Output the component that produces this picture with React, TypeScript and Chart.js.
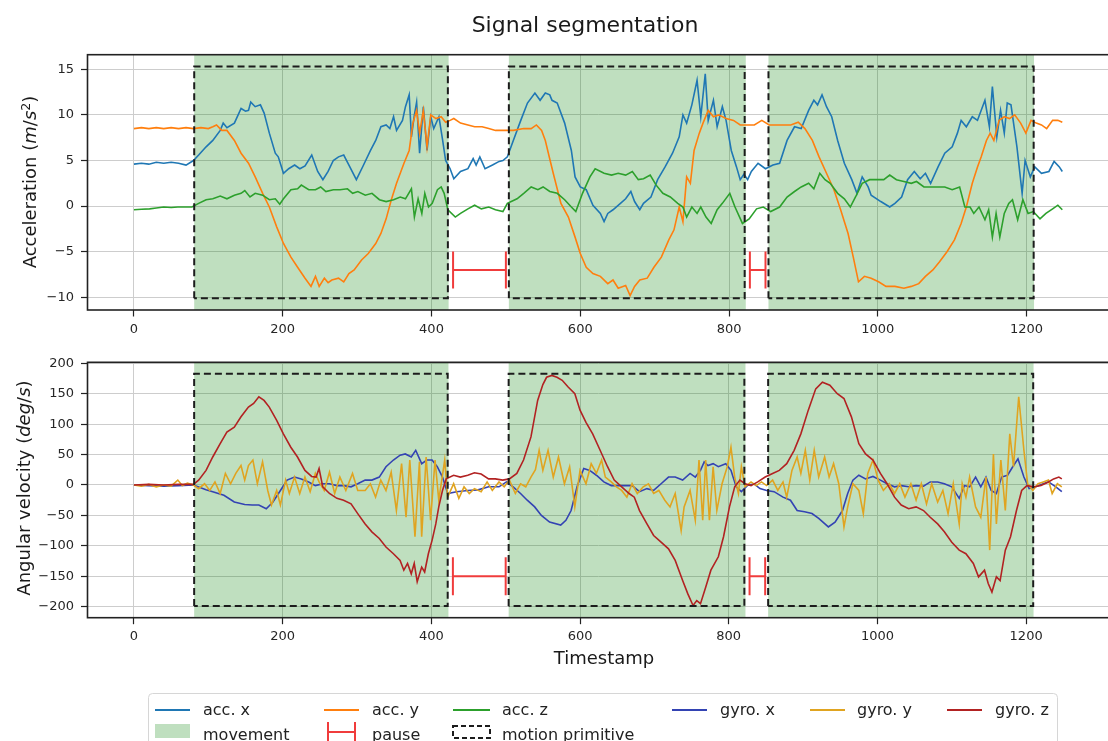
import React, { useEffect, useRef } from 'react';
import { Chart, registerables } from 'chart.js';

Chart.register(...registerables);

// ---------------- data ----------------
const xTicks = [0, 200, 400, 600, 800, 1000, 1200];
const accTicks = [-10, -5, 0, 5, 10, 15];
const gyroTicks = [-200, -150, -100, -50, 0, 50, 100, 150, 200];

const movementSpans = [[81, 423], [504, 822.5], [853, 1210]];
const primitiveSpans = [[81, 422], [504, 821], [853, 1209.5]];
const pauseSpans = [[429, 500], [828, 849]];
const accPrimitiveY = [-10.1, 15.3];
const gyroPrimitiveY = [-198.8, 182.9];
const accPauseY = -7;
const gyroPauseY = -150;

const accX = [[0,4.6],[10,4.7],[20,4.6],[30,4.8],[40,4.7],[50,4.8],[60,4.7],[70,4.5],[80,5.0],[87,5.6],[97,6.5],[106,7.2],[116,8.3],[120,9.1],[125,8.6],[135,9.1],[144,10.7],[150,10.4],[154,10.5],[157,11.4],[163,10.9],[170,11.1],[175,10.2],[182,8.0],[190,5.8],[194,5.4],[201,3.6],[208,4.1],[216,4.5],[223,4.1],[230,4.4],[239,5.6],[247,3.8],[254,2.9],[261,3.8],[268,5.0],[275,5.4],[282,5.6],[289,4.5],[299,2.9],[308,4.4],[318,6.1],[325,7.2],[332,8.7],[339,8.9],[344,8.5],[349,9.8],[353,8.3],[361,9.4],[365,10.9],[370,12.2],[373,7.6],[377,10.0],[380,11.4],[384,5.8],[389,10.9],[394,6.1],[399,9.8],[403,8.5],[410,9.8],[415,7.2],[419,5.0],[425,4.1],[430,3.0],[439,3.8],[449,4.1],[456,5.2],[460,4.5],[465,5.4],[472,4.1],[482,4.5],[491,4.9],[496,5.0],[502,5.4],[510,7.2],[520,9.4],[529,11.3],[539,12.4],[546,11.6],[553,12.4],[559,12.2],[562,11.6],[569,11.3],[579,9.1],[588,6.1],[593,3.2],[600,2.1],[608,1.8],[617,0.1],[627,-0.8],[632,-1.7],[637,-0.8],[644,-0.4],[654,0.3],[661,0.8],[668,1.6],[673,0.5],[680,-0.4],[685,0.3],[695,1.0],[704,2.9],[714,4.3],[724,5.8],[733,7.6],[738,10.0],[743,9.1],[750,11.1],[757,13.8],[762,9.8],[768,14.5],[772,9.4],[779,11.6],[784,8.7],[791,10.9],[796,9.4],[803,6.1],[810,4.3],[815,2.9],[820,3.5],[825,2.9],[830,3.8],[839,4.7],[849,4.1],[859,4.5],[868,4.7],[878,7.2],[888,8.7],[897,8.5],[907,10.5],[914,11.6],[919,11.1],[925,12.2],[931,10.9],[938,9.8],[946,7.2],[955,4.7],[965,2.9],[972,1.4],[979,3.2],[987,2.1],[991,1.2],[1004,0.5],[1016,-0.1],[1023,0.3],[1032,1.0],[1040,2.9],[1049,3.8],[1057,3.0],[1064,3.6],[1071,2.5],[1081,4.3],[1090,5.8],[1100,6.5],[1107,8.0],[1112,9.4],[1119,8.7],[1127,9.8],[1134,9.4],[1144,11.6],[1150,8.7],[1154,13.1],[1160,7.6],[1165,10.5],[1170,8.0],[1174,11.3],[1179,11.1],[1187,6.5],[1194,1.4],[1198,5.0],[1205,3.2],[1211,4.3],[1220,3.6],[1230,3.8],[1237,4.9],[1244,4.3],[1248,3.8]];

const accY = [[0,8.5],[10,8.6],[20,8.5],[30,8.6],[40,8.5],[50,8.6],[60,8.5],[70,8.6],[80,8.5],[90,8.6],[100,8.5],[106,8.7],[111,8.9],[118,8.3],[125,8.3],[135,7.2],[144,5.8],[154,4.7],[163,3.2],[173,1.4],[182,-0.1],[192,-2.3],[201,-4.1],[211,-5.6],[220,-6.7],[230,-7.9],[238,-8.8],[244,-7.7],[249,-8.8],[256,-7.9],[261,-8.4],[266,-8.1],[275,-7.9],[282,-8.3],[289,-7.4],[296,-7.0],[306,-5.9],[315,-5.2],[325,-4.1],[332,-3.0],[339,-1.4],[346,0.7],[353,2.5],[363,4.7],[370,6.1],[375,9.1],[380,10.5],[384,8.0],[389,10.5],[394,6.5],[399,10.0],[406,9.6],[413,9.8],[419,9.2],[425,9.4],[430,9.6],[439,9.1],[449,8.9],[458,8.7],[468,8.7],[477,8.5],[486,8.3],[496,8.3],[510,8.3],[524,8.5],[534,8.5],[541,8.9],[548,8.3],[553,7.2],[558,5.5],[564,3.5],[574,0.3],[584,-1.2],[593,-3.4],[600,-5.2],[608,-6.7],[617,-7.4],[627,-7.7],[637,-8.5],[644,-8.1],[651,-9.0],[661,-8.7],[667,-9.8],[673,-8.8],[680,-8.1],[690,-7.9],[699,-6.7],[709,-5.6],[719,-3.7],[726,-2.6],[733,-0.1],[738,-1.7],[743,3.2],[748,2.5],[753,6.1],[760,8.0],[765,9.1],[772,10.5],[779,9.8],[786,10.0],[796,9.6],[806,9.4],[815,8.9],[825,8.9],[834,8.9],[844,9.4],[854,8.9],[864,8.9],[873,8.9],[883,8.9],[893,9.2],[902,8.5],[912,7.2],[921,5.4],[931,3.6],[941,1.8],[950,-0.4],[960,-3.0],[967,-5.6],[974,-8.3],[982,-7.7],[991,-7.9],[1001,-8.3],[1011,-8.8],[1023,-8.8],[1035,-9.0],[1045,-8.8],[1055,-8.5],[1064,-7.7],[1074,-7.0],[1083,-6.1],[1093,-5.0],[1103,-3.7],[1112,-1.9],[1119,-0.1],[1127,2.5],[1134,4.3],[1139,5.4],[1146,7.2],[1151,8.0],[1156,7.2],[1163,9.4],[1170,9.8],[1177,9.6],[1184,10.0],[1192,9.1],[1199,8.0],[1206,9.4],[1213,9.1],[1220,8.9],[1227,8.5],[1235,9.4],[1242,9.4],[1248,9.2]];

const accZ = [[0,-0.4],[10,-0.35],[21,-0.3],[30,-0.2],[40,-0.1],[50,-0.15],[59,-0.1],[70,-0.1],[78,-0.1],[87,0.3],[97,0.7],[106,0.8],[116,1.1],[125,0.8],[135,1.2],[144,1.4],[149,1.7],[156,1.0],[163,1.4],[173,1.2],[182,0.7],[190,0.8],[196,0.2],[201,0.8],[211,1.8],[220,1.9],[225,2.3],[235,1.8],[244,1.8],[251,2.1],[258,1.6],[268,1.8],[277,1.8],[287,1.9],[294,1.4],[301,1.6],[311,1.2],[320,1.4],[330,0.7],[339,0.5],[349,0.7],[358,1.0],[365,0.8],[373,1.9],[377,-1.2],[382,0.8],[387,-0.8],[391,1.4],[396,-0.1],[401,0.3],[408,1.8],[413,2.1],[417,1.4],[422,-0.4],[432,-1.2],[439,-0.8],[449,-0.3],[458,0.1],[467,-0.3],[477,-0.1],[486,-0.4],[496,-0.6],[502,0.3],[515,0.8],[524,1.4],[534,2.1],[543,1.8],[550,2.1],[559,1.6],[569,1.4],[579,0.7],[588,-0.1],[594,-0.6],[603,1.4],[613,3.2],[620,4.1],[632,3.6],[642,3.4],[651,3.6],[661,3.4],[670,3.8],[678,2.9],[685,3.0],[694,3.4],[702,2.3],[711,1.4],[721,1.0],[731,0.3],[738,-0.1],[743,-1.2],[750,-0.1],[757,-0.8],[762,-0.1],[769,-1.2],[776,-1.9],[784,-0.4],[791,0.3],[801,1.4],[808,-0.1],[818,-1.9],[827,-1.4],[837,-0.3],[846,-0.1],[856,-0.6],[868,-0.1],[878,1.0],[888,1.6],[897,2.1],[907,2.5],[914,1.9],[922,3.6],[929,2.9],[936,2.5],[946,1.4],[955,0.8],[963,-0.1],[970,1.0],[979,2.5],[989,2.9],[999,2.9],[1008,2.9],[1016,3.4],[1025,2.9],[1035,2.7],[1045,2.5],[1052,2.7],[1062,2.1],[1071,2.1],[1081,2.1],[1090,2.1],[1100,1.8],[1110,2.1],[1117,-0.1],[1124,-0.1],[1129,-0.8],[1136,-0.1],[1144,-1.5],[1149,-0.4],[1154,-3.4],[1159,-0.8],[1164,-3.4],[1170,-0.8],[1176,0.3],[1181,0.7],[1188,-1.5],[1195,0.7],[1202,-0.8],[1209,-0.6],[1218,-1.4],[1226,-0.8],[1235,-0.3],[1242,0.1],[1248,-0.4]];

const gyroX = [[0,0],[20,-1],[40,-2],[60,-1],[80,0],[97,-8],[106,-11],[121,-17],[135,-28],[149,-32],[159,-33],[168,-33],[178,-39],[187,-28],[197,-9],[206,8],[216,13],[225,10],[235,5],[244,-1],[254,2],[263,2],[273,-1],[282,-1],[292,-3],[301,2],[311,8],[320,8],[330,13],[339,30],[349,41],[358,49],[365,51],[373,46],[379,57],[387,35],[394,41],[401,41],[408,30],[415,13],[422,-14],[434,-11],[449,-9],[463,-8],[477,-3],[491,-3],[501,5],[510,-3],[520,-14],[529,-25],[539,-36],[548,-50],[559,-61],[574,-66],[581,-58],[588,-42],[596,-3],[605,27],[613,24],[622,16],[632,5],[642,-1],[651,-1],[661,-1],[670,-1],[680,-11],[690,-6],[699,-9],[709,2],[719,13],[728,13],[738,8],[748,19],[755,13],[762,24],[767,38],[772,32],[779,35],[786,30],[796,35],[803,24],[810,-3],[817,-11],[825,-1],[834,2],[842,-6],[851,-9],[861,-11],[873,-20],[883,-25],[892,-42],[902,-44],[912,-47],[921,-55],[934,-69],[943,-61],[953,-42],[960,-14],[967,8],[975,16],[984,10],[994,14],[1004,8],[1013,2],[1023,-3],[1032,-1],[1042,-3],[1052,-1],[1062,-2],[1071,5],[1081,5],[1090,2],[1100,-3],[1110,-22],[1117,-1],[1124,-3],[1132,13],[1139,-3],[1146,13],[1153,-9],[1160,-14],[1167,13],[1175,16],[1182,30],[1189,43],[1197,13],[1204,-6],[1213,-3],[1223,2],[1230,5],[1240,-3],[1248,-11]];

const gyroY = [[0,0],[10,-2],[20,1],[30,-3],[40,0],[50,-2],[59,8],[65,-1],[72,3],[80,0],[87,-6],[95,2],[102,-9],[109,5],[116,-14],[123,19],[130,2],[137,19],[144,32],[149,8],[154,32],[160,41],[166,2],[173,38],[180,-9],[185,-33],[192,-9],[197,-33],[204,8],[209,-14],[216,13],[223,-14],[230,13],[237,-11],[244,19],[249,5],[256,-9],[263,21],[270,-14],[277,13],[285,-9],[294,19],[301,-9],[311,-9],[318,2],[325,-20],[332,8],[339,-9],[346,21],[353,-42],[360,35],[366,-53],[371,41],[378,-85],[384,38],[387,-85],[393,46],[399,-58],[405,41],[410,-25],[418,41],[422,-20],[430,2],[437,-22],[444,-3],[451,-14],[458,-6],[467,-11],[475,5],[482,-9],[491,5],[498,-3],[505,8],[513,-14],[520,2],[527,-3],[534,13],[540,25],[545,57],[550,24],[557,57],[564,13],[571,46],[579,2],[586,30],[593,-36],[600,24],[608,2],[615,35],[622,19],[629,41],[634,13],[642,5],[649,-3],[656,-9],[663,-20],[670,2],[677,-14],[685,-3],[692,2],[699,-14],[706,-9],[714,-25],[721,-36],[728,-14],[736,-75],[740,-36],[748,-9],[755,-58],[760,41],[765,-58],[769,41],[774,-58],[779,30],[784,-42],[791,2],[798,30],[803,62],[808,13],[813,-14],[817,30],[822,-3],[830,5],[837,-1],[844,5],[851,-1],[859,8],[866,-9],[873,5],[878,-20],[885,24],[892,46],[897,19],[903,57],[909,8],[915,57],[921,13],[929,46],[935,13],[941,35],[948,2],[955,-69],[960,-36],[967,2],[975,-9],[981,-47],[987,19],[994,41],[1001,8],[1008,-9],[1016,2],[1023,-14],[1030,2],[1037,-20],[1045,2],[1052,-25],[1059,2],[1066,-31],[1073,2],[1081,-28],[1088,-9],[1095,-47],[1102,2],[1110,-64],[1114,2],[1119,-20],[1124,13],[1132,-36],[1139,-53],[1146,13],[1151,-107],[1156,51],[1160,-64],[1166,41],[1172,-42],[1178,84],[1183,30],[1190,145],[1197,57],[1202,2],[1209,-9],[1216,2],[1223,5],[1230,8],[1235,-14],[1242,2],[1248,-3]];

const gyroZ = [[0,0],[20,1],[40,0],[60,1],[80,1],[87,8],[97,24],[106,46],[116,68],[125,87],[135,95],[144,112],[154,128],[161,134],[168,145],[175,139],[182,128],[192,106],[201,84],[211,62],[220,46],[230,24],[239,14],[245,13],[249,27],[254,-3],[263,-14],[273,-22],[282,-25],[292,-31],[301,-47],[311,-64],[320,-77],[330,-88],[339,-102],[349,-113],[358,-124],[363,-140],[368,-129],[373,-146],[377,-129],[381,-159],[387,-135],[391,-143],[396,-113],[401,-91],[406,-64],[410,-36],[415,-9],[420,10],[430,16],[439,13],[449,16],[458,20],[467,18],[477,10],[486,10],[496,8],[505,10],[515,19],[524,41],[534,79],[543,139],[550,165],[555,177],[562,180],[569,177],[576,172],[584,161],[593,150],[600,123],[608,103],[617,84],[627,57],[637,30],[646,8],[656,-3],[666,-14],[673,-20],[680,-42],[690,-64],[699,-83],[709,-94],[719,-105],[728,-124],[738,-157],[745,-179],[752,-198],[757,-190],[762,-195],[769,-168],[776,-140],[786,-118],[793,-85],[801,-36],[808,-3],[815,8],[822,2],[830,-1],[839,5],[849,13],[859,19],[868,24],[878,35],[888,57],[897,84],[907,123],[917,158],[926,169],[936,164],[946,150],[955,142],[965,112],[975,68],[984,51],[994,41],[1004,19],[1013,2],[1023,-20],[1032,-33],[1042,-39],[1052,-36],[1062,-42],[1071,-53],[1081,-64],[1090,-77],[1100,-94],[1110,-107],[1119,-113],[1129,-129],[1136,-151],[1144,-140],[1149,-162],[1154,-176],[1160,-151],[1165,-157],[1172,-107],[1179,-85],[1187,-42],[1194,-9],[1201,-1],[1211,-3],[1220,-1],[1230,5],[1237,10],[1244,13],[1248,10]];

const accLabels = ['acc. x', 'acc. y', 'acc. z'];
const gyroLabels = ['gyro. x', 'gyro. y', 'gyro. z'];
const accColors = ['#1f77b4', '#ff7f0e', '#2ca02c'];
const gyroColors = ['#3343b3', '#e0a420', '#b22222'];
const pauseColor = '#f03c3c';
const movementColor = 'rgba(0,128,0,0.25)';

// --------------- helpers ---------------
const FONT = '"DejaVu Sans", "Liberation Sans", sans-serif';
const fmt = (v: number) => (v < 0 ? '\u2212' + Math.abs(v) : String(v));

const spanPlugin = {
  id: 'movementSpans',
  beforeDatasetsDraw(chart: any) {
    const { ctx, chartArea, scales } = chart;
    const x = scales.x;
    ctx.save();
    ctx.fillStyle = movementColor;
    for (const [a, b] of movementSpans) {
      const p0 = x.getPixelForValue(a);
      const p1 = x.getPixelForValue(b);
      ctx.fillRect(p0, chartArea.top, p1 - p0, chartArea.bottom - chartArea.top);
    }
    ctx.restore();
  },
};

const framePlugin = {
  id: 'frame',
  afterDatasetsDraw(chart: any) {
    const { ctx, chartArea } = chart;
    ctx.save();
    ctx.strokeStyle = '#222';
    ctx.lineWidth = 1.6;
    ctx.strokeRect(chartArea.left, chartArea.top, chartArea.right - chartArea.left, chartArea.bottom - chartArea.top);
    ctx.restore();
  },
};

function makeConfig(o: any) {
  const datasets: any[] = [];
  o.series.forEach((pts: number[][], i: number) => {
    datasets.push({
      label: o.labels[i],
      data: pts.map(([x, y]) => ({ x, y })),
      borderColor: o.colors[i],
      backgroundColor: o.colors[i],
      borderWidth: 1.6,
      pointRadius: 0,
      tension: 0,
      fill: false,
      order: 10 - i,
    });
  });
  primitiveSpans.forEach(([a, b]) => {
    const [y0, y1] = o.primY;
    datasets.push({
      label: 'motion primitive',
      data: [
        { x: a, y: y0 }, { x: a, y: y1 }, { x: b, y: y1 }, { x: b, y: y0 }, { x: a, y: y0 },
      ],
      borderColor: '#1c1c1c',
      borderWidth: 2,
      borderDash: [7, 4],
      pointRadius: 0,
      fill: false,
      tension: 0,
      order: 2,
    });
  });
  pauseSpans.forEach(([a, b]) => {
    datasets.push({
      label: 'pause',
      data: [{ x: a, y: o.pauseY }, { x: b, y: o.pauseY }],
      borderColor: pauseColor,
      borderWidth: 2,
      pointStyle: 'line',
      rotation: 90,
      pointRotation: 90,
      pointRadius: o.capR,
      pointBorderColor: pauseColor,
      pointBackgroundColor: pauseColor,
      pointBorderWidth: 2,
      fill: false,
      order: 1,
    });
  });

  const tickFont = { family: FONT, size: 13 };
  return {
    type: 'line',
    data: { datasets },
    options: {
      animation: false,
      responsive: false,
      events: [],
      layout: { padding: { top: o.padTop, right: 18, bottom: o.padBottom, left: 0 } },
      plugins: { legend: { display: false }, tooltip: { enabled: false }, title: { display: false } },
      scales: {
        x: {
          type: 'linear',
          min: -62.45,
          max: 1311.45,
          afterBuildTicks: (s: any) => { s.ticks = xTicks.map((v) => ({ value: v })); },
          afterFit: (s: any) => { s.height = 30; },
          grid: { color: '#cdcdcd', lineWidth: 1, tickColor: '#222', tickLength: 6.5, tickWidth: 1.2 },
          border: { display: false },
          ticks: { font: tickFont, color: '#262626', padding: 5, maxRotation: 0, callback: (v: any) => fmt(Number(v)) },
        },
        y: {
          type: 'linear',
          min: o.yMin,
          max: o.yMax,
          afterBuildTicks: (s: any) => { s.ticks = o.yTicks.map((v: number) => ({ value: v })); },
          afterFit: (s: any) => { s.width = 87.5; },
          grid: { color: '#cdcdcd', lineWidth: 1, tickColor: '#222', tickLength: 6.5, tickWidth: 1.2 },
          border: { display: false },
          ticks: { font: tickFont, color: '#262626', padding: 7, callback: (v: any) => fmt(Number(v)) },
        },
      },
    },
    plugins: [spanPlugin, framePlugin],
  };
}

const legendCols = [
  { h0: 155, h1: 190, t: 203 },
  { h0: 324, h1: 359, t: 372 },
  { h0: 453, h1: 490, t: 502 },
  { h0: 672, h1: 707, t: 720 },
  { h0: 810, h1: 845, t: 857 },
  { h0: 947, h1: 982, t: 995 },
];

export default function App() {
  const topRef = useRef<HTMLCanvasElement>(null);
  const botRef = useRef<HTMLCanvasElement>(null);

  useEffect(() => {
    const c1 = new Chart(topRef.current as HTMLCanvasElement, makeConfig({
      series: [accX, accY, accZ], labels: accLabels, colors: accColors,
      yMin: -11.39, yMax: 16.6, yTicks: accTicks, primY: accPrimitiveY, pauseY: accPauseY, capR: 18.5,
      padTop: 54.7, padBottom: 0,
    }) as any);
    const c2 = new Chart(botRef.current as HTMLCanvasElement, makeConfig({
      series: [gyroX, gyroY, gyroZ], labels: gyroLabels, colors: gyroColors,
      yMin: -218.1, yMax: 201.6, yTicks: gyroTicks, primY: gyroPrimitiveY, pauseY: gyroPauseY, capR: 19,
      padTop: 22.3, padBottom: 32.3,
    }) as any);
    return () => { c1.destroy(); c2.destroy(); };
  }, []);

  const legendRow1 = [...accLabels, ...gyroLabels];
  const legendRow1Colors = [...accColors, ...gyroColors];
  const text: React.CSSProperties = { position: 'absolute', whiteSpace: 'nowrap', color: '#222', fontSize: 16, lineHeight: '16px' };

  return (
    <div style={{ position: 'fixed', left: 0, top: 0, width: 1108, height: 741, overflow: 'hidden', background: '#fff', fontFamily: FONT }}>
      <canvas ref={topRef} width={1130} height={340} style={{ position: 'absolute', left: 0, top: 0 }} />
      <canvas ref={botRef} width={1130} height={340} style={{ position: 'absolute', left: 0, top: 340 }} />

      <div style={{ position: 'absolute', left: 585, top: 14.4, transform: 'translateX(-50%)', fontSize: 22, lineHeight: '22px', whiteSpace: 'nowrap', color: '#1a1a1a' }}>
        Signal segmentation
      </div>
      <div style={{ position: 'absolute', left: 31, top: 182, transform: 'translate(-50%,-50%) rotate(-90deg)', fontSize: 18, lineHeight: '18px', whiteSpace: 'nowrap', color: '#1a1a1a' }}>
        Acceleration (<i>m</i>/<i>s</i><span style={{ fontSize: '0.7em', position: 'relative', top: '-0.5em' }}>2</span>)
      </div>
      <div style={{ position: 'absolute', left: 24, top: 488, transform: 'translate(-50%,-50%) rotate(-90deg)', fontSize: 18, lineHeight: '18px', whiteSpace: 'nowrap', color: '#1a1a1a' }}>
        Angular velocity (<i>deg</i>/<i>s</i>)
      </div>
      <div style={{ position: 'absolute', left: 604, top: 649, transform: 'translateX(-50%)', fontSize: 18, lineHeight: '18px', whiteSpace: 'nowrap', color: '#1a1a1a' }}>
        Timestamp
      </div>

      <svg width={1108} height={741} style={{ position: 'absolute', left: 0, top: 0, pointerEvents: 'none' }}>
        <rect x={148.5} y={693.5} width={909} height={70} rx={4} fill="#fff" stroke="#d6d6d6" strokeWidth={1} />
        {legendCols.map((c, i) => (
          <line key={'l' + i} x1={c.h0} x2={c.h1} y1={710} y2={710} stroke={legendRow1Colors[i]} strokeWidth={2} />
        ))}
        <rect x={legendCols[0].h0} y={724} width={legendCols[0].h1 - legendCols[0].h0} height={14} fill={movementColor} />
        <line x1={legendCols[1].h0 + 4} x2={legendCols[1].h1 - 4} y1={732} y2={732} stroke={pauseColor} strokeWidth={2} />
        <line x1={legendCols[1].h0 + 4} x2={legendCols[1].h0 + 4} y1={722} y2={744} stroke={pauseColor} strokeWidth={2} />
        <line x1={legendCols[1].h1 - 4} x2={legendCols[1].h1 - 4} y1={722} y2={744} stroke={pauseColor} strokeWidth={2} />
        <rect x={legendCols[2].h0} y={726} width={legendCols[2].h1 - legendCols[2].h0} height={12} fill="none" stroke="#1c1c1c" strokeWidth={2} strokeDasharray="5,3" />
      </svg>

      {legendCols.map((c, i) => (
        <div key={'t' + i} style={{ ...text, left: c.t, top: 701.5 }}>{legendRow1[i]}</div>
      ))}
      <div style={{ ...text, left: legendCols[0].t, top: 726.5 }}>movement</div>
      <div style={{ ...text, left: legendCols[1].t, top: 726.5 }}>pause</div>
      <div style={{ ...text, left: legendCols[2].t, top: 726.5 }}>motion primitive</div>
    </div>
  );
}
